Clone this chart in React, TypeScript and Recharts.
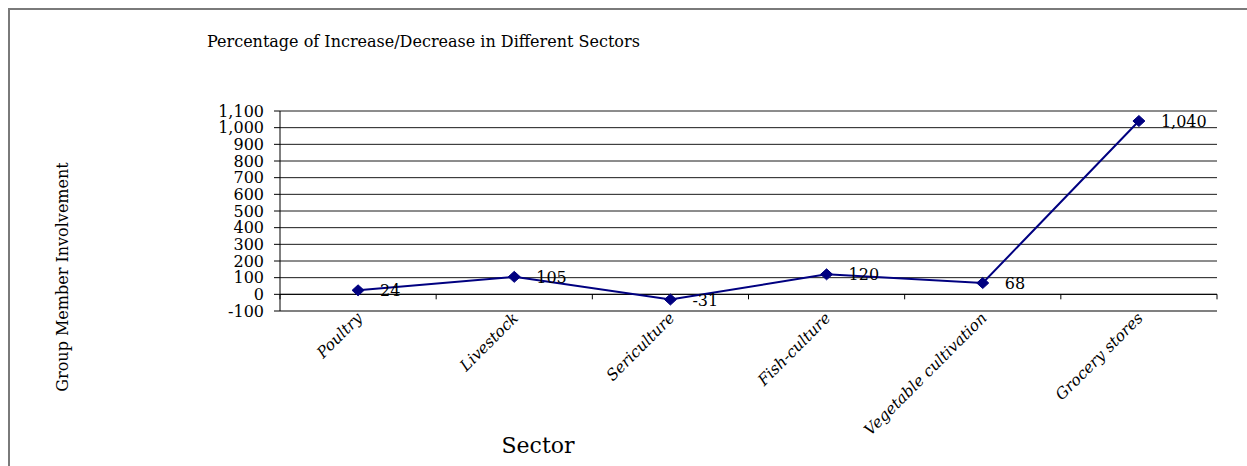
import React from "react";
import {
  LineChart,
  Line,
  XAxis,
  YAxis,
  CartesianGrid,
  ReferenceLine,
  LabelList,
} from "recharts";

const sectors = [
  "Poultry",
  "Livestock",
  "Sericulture",
  "Fish-culture",
  "Vegetable cultivation",
  "Grocery stores",
];
const changes = [24, 105, -31, 120, 68, 1040];
const yTicks = [-100, 0, 100, 200, 300, 400, 500, 600, 700, 800, 900, 1000, 1100];

const title = "Percentage of Increase/Decrease in Different Sectors";
const yTitle = "Group Member Involvement";
const xTitle = "Sector";

const data = sectors.map((s, i) => ({ sector: s, value: changes[i] }));

const FONT = "'DejaVu Serif', serif";
const fmt = (v: number) => v.toLocaleString("en-US");

const Diamond = (props: any) => {
  const { cx, cy } = props;
  if (cx == null || cy == null) return null;
  const w = 6;
  const h = 5.5;
  return (
    <polygon
      points={`${cx},${cy - h} ${cx + w},${cy} ${cx},${cy + h} ${cx - w},${cy}`}
      fill="#000080"
      stroke="#000080"
      strokeWidth={1}
    />
  );
};

const XTick = (props: any) => {
  const { x, y, payload } = props;
  const ax = x + 5;
  const ay = y + 8;
  return (
    <text
      x={ax}
      y={ay}
      transform={`rotate(-45, ${ax}, ${ay})`}
      textAnchor="end"
      fontFamily={FONT}
      fontStyle="italic"
      fontSize={15.5}
      fill="#000"
    >
      {payload.value}
    </text>
  );
};

const ValueLabel = (props: any) => {
  const { x, y, value } = props;
  return (
    <text x={x + 22} y={y + 6} fontFamily={FONT} fontSize={16} fill="#000" textAnchor="start">
      {fmt(value)}
    </text>
  );
};

const ZeroLine = (props: any) => {
  const { x1, y1, x2, y2 } = props;
  const n = sectors.length;
  const step = (x2 - x1) / n;
  const ticks = [];
  for (let i = 0; i <= n; i++) {
    const tx = x1 + step * i;
    ticks.push(<line key={i} x1={tx} y1={y1} x2={tx} y2={y1 + 5} stroke="#000" strokeWidth={1} />);
  }
  return (
    <g>
      <line x1={x1} y1={y1} x2={x2} y2={y2} stroke="#000" strokeWidth={1} />
      {ticks}
    </g>
  );
};

export default function App() {
  return (
    <div
      style={{
        position: "absolute",
        left: 0,
        top: 0,
        width: 1247,
        height: 466,
        overflow: "hidden",
        background: "#fff",
      }}
    >
      <div
        style={{
          position: "absolute",
          left: 8,
          top: 8,
          width: 1400,
          height: 600,
          borderTop: "2px solid #7a7a7a",
          borderLeft: "2px solid #7a7a7a",
        }}
      />
      <div
        style={{
          position: "absolute",
          left: 207,
          top: 32,
          fontFamily: FONT,
          fontSize: 16,
          whiteSpace: "nowrap",
          color: "#000",
        }}
      >
        {title}
      </div>
      <div
        style={{
          position: "absolute",
          left: 62,
          top: 277,
          transform: "translate(-50%, -50%) rotate(-90deg)",
          fontFamily: FONT,
          fontSize: 16,
          whiteSpace: "nowrap",
          color: "#000",
        }}
      >
        {yTitle}
      </div>
      <div
        style={{
          position: "absolute",
          left: 538,
          top: 445,
          transform: "translate(-50%, -50%)",
          fontFamily: FONT,
          fontSize: 22,
          whiteSpace: "nowrap",
          color: "#000",
        }}
      >
        {xTitle}
      </div>
      <div style={{ position: "absolute", left: 0, top: 0 }}>
        <LineChart
          width={1247}
          height={466}
          data={data}
          margin={{ top: 111, right: 30, bottom: 0, left: 50 }}
        >
          <CartesianGrid horizontal vertical={false} stroke="#1a1a1a" strokeWidth={1} />
          <XAxis
            dataKey="sector"
            scale="band"
            height={155}
            interval={0}
            tickLine={false}
            tickSize={0}
            tickMargin={0}
            axisLine={{ stroke: "#808080", strokeWidth: 2 }}
            tick={<XTick />}
          />
          <YAxis
            width={230}
            domain={[-100, 1100]}
            ticks={yTicks}
            interval={0}
            tickFormatter={fmt}
            tickSize={6}
            tickMargin={10}
            axisLine={{ stroke: "#000" }}
            tickLine={{ stroke: "#000" }}
            tick={{ fontFamily: FONT, fontSize: 16, fill: "#000" }}
          />
          <ReferenceLine y={0} shape={<ZeroLine />} />
          <Line
            type="linear"
            dataKey="value"
            stroke="#000080"
            strokeWidth={2}
            dot={<Diamond />}
            activeDot={false}
            isAnimationActive={false}
          >
            <LabelList dataKey="value" content={<ValueLabel />} />
          </Line>
        </LineChart>
      </div>
    </div>
  );
}
